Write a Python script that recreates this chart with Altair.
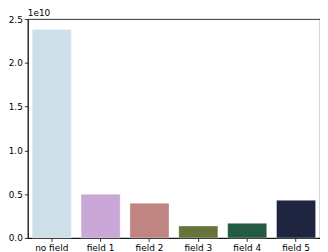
import altair as alt
import pandas as pd

categories = ["no field", "field 1", "field 2", "field 3", "field 4", "field 5"]
values = [2.38e10, 0.50e10, 0.397e10, 0.137e10, 0.167e10, 0.43e10]
colors = ["#cde0ea", "#c9a8d7", "#c08482", "#66733a", "#235a44", "#1f2540"]
y_ticks = [0, 0.5e10, 1.0e10, 1.5e10, 2.0e10, 2.5e10]

df = pd.DataFrame({"cat": categories, "val": values})

bars = alt.Chart(df).mark_bar(stroke="white", strokeWidth=0.6, strokeOpacity=0.6).encode(
    x=alt.X("cat:N", sort=categories,
            scale=alt.Scale(paddingInner=0.2, paddingOuter=0.09),
            axis=alt.Axis(title=None, labelAngle=0, labelFontSize=9, labelFont="DejaVu Sans",
                          labelColor="black", tickColor="black", domainColor="black",
                          tickSize=3.5, labelPadding=2, domainWidth=0.8, tickWidth=0.8)),
    y=alt.Y("val:Q", scale=alt.Scale(domain=[0, 2.5e10], nice=False),
            axis=alt.Axis(title=None, values=y_ticks, grid=False,
                          labelExpr="format(datum.value/1e10, '.1f')",
                          labelFontSize=9, labelFont="DejaVu Sans", labelColor="black",
                          tickColor="black", domainColor="black", tickSize=3.5,
                          labelPadding=2, domainWidth=0.8, tickWidth=0.8)),
    color=alt.Color("cat:N", sort=categories,
                    scale=alt.Scale(domain=categories, range=colors), legend=None),
)

offset = alt.Chart(pd.DataFrame({"t": ["1e10"]})).mark_text(
    align="left", baseline="bottom", fontSize=9, font="DejaVu Sans", color="black"
).encode(x=alt.value(0), y=alt.value(-1), text="t:N")

chart = alt.layer(bars, offset).properties(
    width=295, height=221, padding=0
).configure_view(stroke="black", strokeWidth=0.8)

chart.save("out.html", embed_options={"renderer": "svg", "actions": False})
